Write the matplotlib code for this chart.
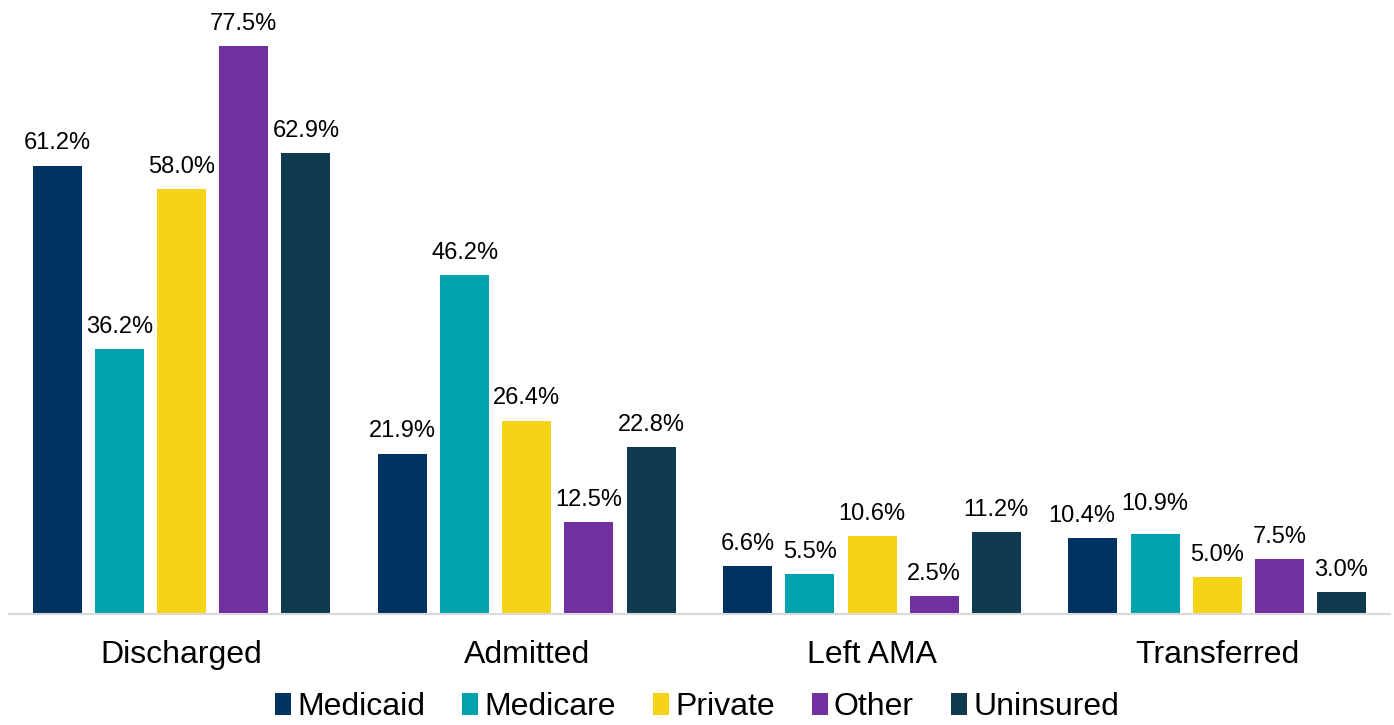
import numpy as np
import matplotlib.pyplot as plt
from matplotlib.patches import Patch

plt.rcParams["font.family"] = ["Liberation Sans", "DejaVu Sans"]

categories = ["Discharged", "Admitted", "Left AMA", "Transferred"]
series = ["Medicaid", "Medicare", "Private", "Other", "Uninsured"]
medicaid = [61.2, 21.9, 6.6, 10.4]
medicare = [36.2, 46.2, 5.5, 10.9]
private = [58.0, 26.4, 10.6, 5.0]
other = [77.5, 12.5, 2.5, 7.5]
uninsured = [62.9, 22.8, 11.2, 3.0]
colors = ["#003262", "#00A3AD", "#F5D317", "#7030A0", "#0F3A4F"]

values = [medicaid, medicare, private, other, uninsured]

# nudge the two crowded labels in the Transferred group apart
nudge = {(0, 3): (-8, 8), (1, 3): (0, 14)}

fig = plt.figure(figsize=(13.94, 7.25), dpi=100)
ax = fig.add_axes([0.0065, 0.153, 0.9905, 0.833])

x = np.arange(len(categories))
pitch = 0.18
width = 0.142
for i, (vals, col) in enumerate(zip(values, colors)):
    pos = x + (i - 2) * pitch
    ax.bar(pos, vals, width, color=col, zorder=2)
    for j, (xp, v) in enumerate(zip(pos, vals)):
        off = nudge.get((i, j), (0, 8))
        ax.annotate("%.1f%%" % v, (xp, v), xytext=off, textcoords="offset points",
                    ha="center", va="bottom", fontsize=17, color="black", annotation_clip=False)

ax.set_xlim(-0.5, 3.5)
ax.set_ylim(0, 82.4)
ax.set_yticks([])
ax.set_xticks(x)
ax.set_xticklabels(categories, fontsize=23)
ax.tick_params(axis="x", length=0, pad=19)
for s in ["top", "right", "left"]:
    ax.spines[s].set_visible(False)
ax.spines["bottom"].set_color("#D9D9D9")
ax.spines["bottom"].set_linewidth(1.5)

handles = [Patch(facecolor=c, label=s) for s, c in zip(series, colors)]
fig.legend(handles=handles, loc="lower center", bbox_to_anchor=(0.5, -0.036), ncol=5,
           frameon=False, fontsize=23, handlelength=0.5, handleheight=0.7,
           handletextpad=0.2, columnspacing=1.15)

fig.savefig("out.png", dpi=100)
